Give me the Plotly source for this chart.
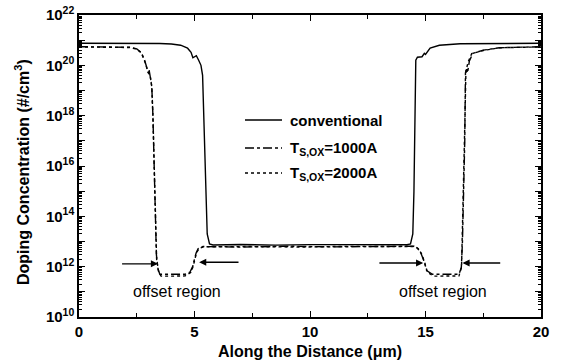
import math
import plotly.graph_objects as go

# ---- data ----
conv_x = [0, 2.0, 3.5, 4.0, 4.4, 4.7, 4.85, 4.93, 5.0, 5.08, 5.18, 5.28, 5.35, 5.4, 5.45, 5.5, 5.55, 5.65, 5.8,
          7.0, 8.5, 10.0, 11.5, 13.0, 14.2, 14.35, 14.45, 14.5, 14.52, 14.55, 14.58, 14.65, 14.85, 14.95,
          15.0, 15.2, 15.6, 16.5, 18.0, 20.0]
conv_y = [7.5e20, 7.5e20, 7.4e20, 7.0e20, 6.3e20, 4.8e20, 3.3e20, 2.0e20, 2.2e20, 2.4e20, 1.6e20, 1.0e20, 4e19,
          1e18, 1e16, 1e14, 2e13, 8e12, 7.3e12,
          7.6e12, 7.2e12, 7.5e12, 7.3e12, 7.6e12, 7.4e12, 8e12, 2e13, 1e15, 1e17, 1e19, 1.6e20, 2.1e20,
          2.2e20, 3.0e20, 2.7e20, 4.8e20, 6.3e20, 7.2e20, 7.5e20, 7.5e20]

t1000_x = [0, 1.5, 2.2, 2.5, 2.7, 2.85, 2.95, 3.0, 3.03, 3.08, 3.15, 3.2, 3.25, 3.3, 3.35, 3.42, 3.5,
           4.0, 4.6, 4.8, 4.92, 5.0, 5.07, 5.16, 5.37, 7.0, 9.0, 11.0, 13.0, 14.5, 14.65, 14.8, 14.95,
           15.05, 15.3, 16.45, 16.55, 16.6, 16.65, 16.7, 16.73, 16.78, 16.82, 16.9, 17.05, 17.5, 18.2, 20.0]
t1000_y = [5.5e20, 5.5e20, 5.2e20, 4.5e20, 3.2e20, 1.5e20, 8e19, 5e19, 7e19, 4e19, 1.5e19, 1e18, 1e16,
           1e14, 3e12, 8e11, 5e11,
           5e11, 5e11, 6e11, 1e12, 2e12, 3.5e12, 5.2e12, 6.3e12, 6.0e12, 6.5e12, 6.1e12, 6.4e12, 6.5e12,
           5.5e12, 3.5e12, 1.5e12,
           7e11, 5e11, 5e11, 9e11, 1e13, 1e15, 1e17, 5e19, 7e19, 5e19, 1.5e20, 3e20, 4e20, 5e20, 5.5e20]

t2000_x = [0, 1.5, 2.2, 2.5, 2.7, 2.85, 2.95, 3.0, 3.08, 3.15, 3.2, 3.25, 3.3, 3.36, 3.45, 3.55,
           4.0, 4.6, 4.85, 4.95, 5.03, 5.1, 5.2, 5.4, 7.5, 9.5, 11.5, 13.5, 14.55, 14.7, 14.85, 14.98,
           15.08, 15.35, 16.45, 16.56, 16.62, 16.67, 16.71, 16.75, 16.85, 17.0, 17.5, 18.2, 20.0]
t2000_y = [5.4e20, 5.4e20, 5.1e20, 4.4e20, 3.1e20, 1.4e20, 7.5e19, 5e19, 4e19, 1.4e19, 1e18, 1e16,
           1e14, 2e12, 6e11, 4.2e11,
           4.2e11, 4.3e11, 6e11, 1.1e12, 2.2e12, 3.8e12, 5.3e12, 6.2e12, 6.3e12, 6.0e12, 6.4e12, 6.2e12,
           6.3e12, 5.0e12, 3.0e12, 1.3e12,
           6e11, 4.2e11, 4.3e11, 1e12, 1e14, 1e16, 1e18, 6e19, 1.4e20, 2.9e20, 3.9e20, 5e20, 5.4e20]

series_names = ["conventional", "T<sub>S,OX</sub>=1000A", "T<sub>S,OX</sub>=2000A"]
series_dash = ["solid", "dashdot", "dot"]

x_ticks = [0, 5, 10, 15, 20]
y_tick_exps = list(range(10, 23))

x_title = "Along the Distance (\u03bcm)"
y_title = "Doping Concentration (#/cm<sup>3</sup>)"

# arrows: (tail_x, head_x, y)
arrows = [(1.8, 3.42, 1.3e12), (6.97, 5.2, 1.5e12), (12.94, 14.9, 1.4e12), (18.3, 16.6, 1.4e12)]
labels = [(4.25, 1e11, "offset region"), (15.76, 1e11, "offset region")]

FONT = "Arial, Liberation Sans, sans-serif"

fig = go.Figure()
for xs, ys, nm, ds in zip([conv_x, t1000_x, t2000_x], [conv_y, t1000_y, t2000_y], series_names, series_dash):
    fig.add_trace(go.Scatter(x=xs, y=ys, mode="lines", name=nm, showlegend=False, hoverinfo="skip",
                             line=dict(color="black", width=1.4, dash=ds)))

# minor tick positions on the log axis
minor_vals = [float(k) * 10.0 ** e for e in range(10, 22) for k in range(2, 10)]

fig.update_xaxes(range=[0, 20], tickmode="array", tickvals=x_ticks, ticktext=[str(v) for v in x_ticks],
                 ticks="inside", ticklen=6, tickwidth=1.2, tickcolor="black",
                 minor=dict(ticks="inside", ticklen=4, dtick=2.5, tick0=0, tickcolor="black", tickwidth=1),
                 showline=True, linecolor="black", linewidth=1.5, mirror="ticks",
                 showgrid=False, zeroline=False, automargin=False, ticklabeloverflow="allow",
                 tickfont=dict(family=FONT, size=15, color="black", weight="bold"))

fig.update_yaxes(type="log", range=[10, 22], tickmode="array",
                 tickvals=[10.0 ** e for e in y_tick_exps],
                 ticktext=[("10<sup>%d</sup>" % e) if e % 2 == 0 else "" for e in y_tick_exps],
                 ticks="inside", ticklen=6, tickwidth=1.2, tickcolor="black",
                 minor=dict(ticks="inside", ticklen=3, tickmode="array", tickvals=minor_vals,
                            tickcolor="black", tickwidth=1),
                 showline=True, linecolor="black", linewidth=1.5, mirror="ticks",
                 showgrid=False, zeroline=False, automargin=False, ticklabeloverflow="allow",
                 tickfont=dict(family=FONT, size=15, color="black", weight="bold"))

W, H = 561, 362
L, R, T, B = 79, 541, 15, 317   # plot area in page pixels
def px(v):
    return (v - L) / (R - L)
def py(v):
    return (B - v) / (B - T)

fig.add_annotation(xref="paper", yref="paper", x=px(310), y=py(351), text=x_title, showarrow=False,
                   xanchor="center", yanchor="middle",
                   font=dict(family=FONT, size=16, color="black", weight="bold"))
fig.add_annotation(xref="paper", yref="paper", x=px(22), y=py(172), text=y_title, showarrow=False,
                   xanchor="center", yanchor="middle",
                   textangle=-90, font=dict(family=FONT, size=16, color="black", weight="bold"))

for tx, hx, yy in arrows:
    fig.add_annotation(x=hx, y=math.log10(yy), ax=tx, ay=math.log10(yy), axref="x", ayref="y",
                       xref="x", yref="y", text="", showarrow=True, arrowhead=2, arrowsize=1.1,
                       arrowwidth=1.3, arrowcolor="black", standoff=0)
for lx, ly, lt in labels:
    fig.add_annotation(x=lx, y=math.log10(ly), xref="x", yref="y", text=lt, showarrow=False,
                       xanchor="center", yanchor="middle",
                       font=dict(family=FONT, size=16, color="black"))

# manual legend
leg_y = [120, 148, 173]
for yy, nm, ds in zip(leg_y, series_names, series_dash):
    fig.add_shape(type="line", xref="paper", yref="paper", x0=px(245), x1=px(282), y0=py(yy), y1=py(yy),
                  line=dict(color="black", width=1.4, dash=ds))
    fig.add_annotation(xref="paper", yref="paper", x=px(288), y=py(yy), xanchor="left", yanchor="middle",
                       text=nm, showarrow=False,
                       font=dict(family=FONT, size=15, color="black", weight="bold"))

fig.update_layout(width=W, height=H,
                  margin=dict(l=L, r=W - R, t=T, b=H - B, autoexpand=False),
                  paper_bgcolor="white", plot_bgcolor="white", showlegend=False)

fig.write_html("out.html", config={"displayModeBar": False},
               post_script="document.body.style.margin='0px';")
